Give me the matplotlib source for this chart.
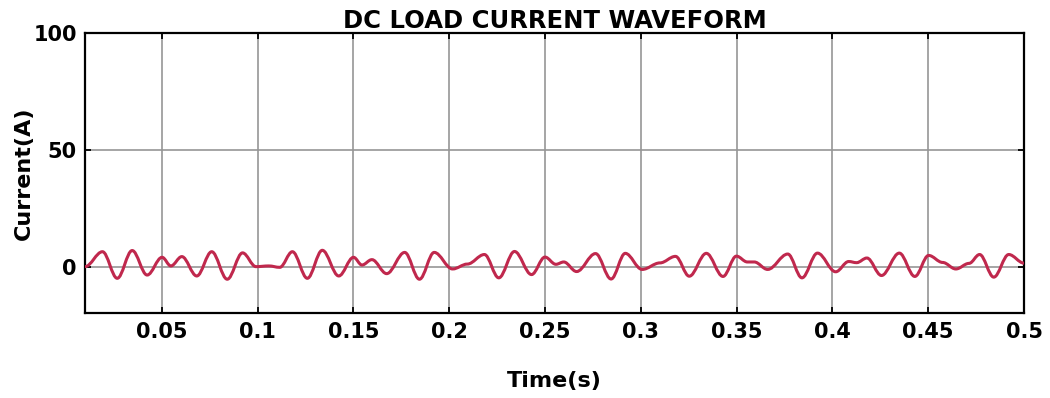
import matplotlib
matplotlib.use("Agg")
import matplotlib.pyplot as plt
from matplotlib.path import Path
from matplotlib.patches import PathPatch

# Knots of the waveform (local peaks/troughs and flat points)
time_s = [0.0100, 0.0191, 0.0268, 0.0346, 0.0424, 0.0502, 0.0548, 0.0605, 0.0683, 0.0761,
          0.0842, 0.0922, 0.0992, 0.1059, 0.1116, 0.1182, 0.1260, 0.1338, 0.1424, 0.1501,
          0.1545, 0.1597, 0.1674, 0.1768, 0.1845, 0.1922, 0.2018, 0.2095, 0.2184, 0.2259,
          0.2341, 0.2430, 0.2500, 0.2557, 0.2598, 0.2665, 0.2764, 0.2845, 0.2919, 0.3007,
          0.3100, 0.3181, 0.3253, 0.3342, 0.3429, 0.3499, 0.3556, 0.3592, 0.3662, 0.3767,
          0.3841, 0.3922, 0.4017, 0.4085, 0.4126, 0.4180, 0.4256, 0.4349, 0.4430, 0.4502,
          0.4575, 0.4644, 0.4713, 0.4768, 0.4842, 0.4920, 0.5000]
current_a = [0.0, 6.4, -5.0, 6.9, -3.6, 4.0, 0.3, 4.3, -4.0, 6.4,
             -5.4, 5.9, 0.0, 0.3, -0.3, 6.4, -5.0, 7.0, -4.0, 4.0,
             0.7, 3.0, -3.0, 6.1, -5.4, 6.1, -1.0, 1.1, 5.2, -4.8,
             6.5, -3.4, 4.1, 1.0, 2.0, -2.1, 5.6, -5.3, 5.7, -1.2,
             1.6, 4.4, -4.1, 5.7, -4.2, 4.5, 2.0, 2.0, -1.2, 5.4,
             -4.8, 5.8, -2.2, 2.2, 1.7, 3.7, -3.8, 5.8, -4.2, 4.8,
             1.8, -1.0, 1.4, 5.2, -4.5, 5.2, 1.5]

x_ticks = [0.05, 0.1, 0.15, 0.2, 0.25, 0.3, 0.35, 0.4, 0.45, 0.5]
x_tick_labels = ["0.05", "0.1", "0.15", "0.2", "0.25", "0.3", "0.35", "0.4", "0.45", "0.5"]
y_ticks = [0, 50, 100]
y_tick_labels = ["0", "50", "100"]

plt.rcParams["font.family"] = ["DejaVu Sans"]
plt.rcParams["font.weight"] = "bold"

fig = plt.figure(figsize=(10.5, 3.98), dpi=100)
ax = fig.add_axes([0.081, 0.2128, 0.8943, 0.7035])

# smooth curve through knots (horizontal tangents at each knot)
k = 0.36
verts = [(time_s[0], current_a[0])]
codes = [Path.MOVETO]
for i in range(len(time_s) - 1):
    dt = time_s[i + 1] - time_s[i]
    verts += [(time_s[i] + k * dt, current_a[i]),
              (time_s[i + 1] - k * dt, current_a[i + 1]),
              (time_s[i + 1], current_a[i + 1])]
    codes += [Path.CURVE4] * 3
patch = PathPatch(Path(verts, codes), facecolor="none", edgecolor="#c0284d",
                  lw=2.2, joinstyle="round", capstyle="round", zorder=3)
ax.add_patch(patch)

ax.set_xlim(0.01, 0.5)
ax.set_ylim(-20, 100)
ax.set_xticks(x_ticks)
ax.set_xticklabels(x_tick_labels)
ax.set_yticks(y_ticks)
ax.set_yticklabels(y_tick_labels)
ax.grid(True, color="#969696", lw=1.2, zorder=1)
ax.set_axisbelow(True)
ax.tick_params(direction="in", top=True, right=True, length=4, width=1.3,
               labelsize=15, pad=6)
for s in ax.spines.values():
    s.set_linewidth(1.6)

ax.set_title("DC LOAD CURRENT WAVEFORM", fontsize=17.5, fontweight="bold", pad=4)
ax.set_xlabel("Time(s)", fontsize=16, fontweight="bold")
ax.xaxis.set_label_coords(0.5, -0.205)
ax.set_ylabel("Current(A)", fontsize=16, fontweight="bold")
ax.yaxis.set_label_coords(-0.055, 0.5)

fig.savefig("out.png", dpi=100)
